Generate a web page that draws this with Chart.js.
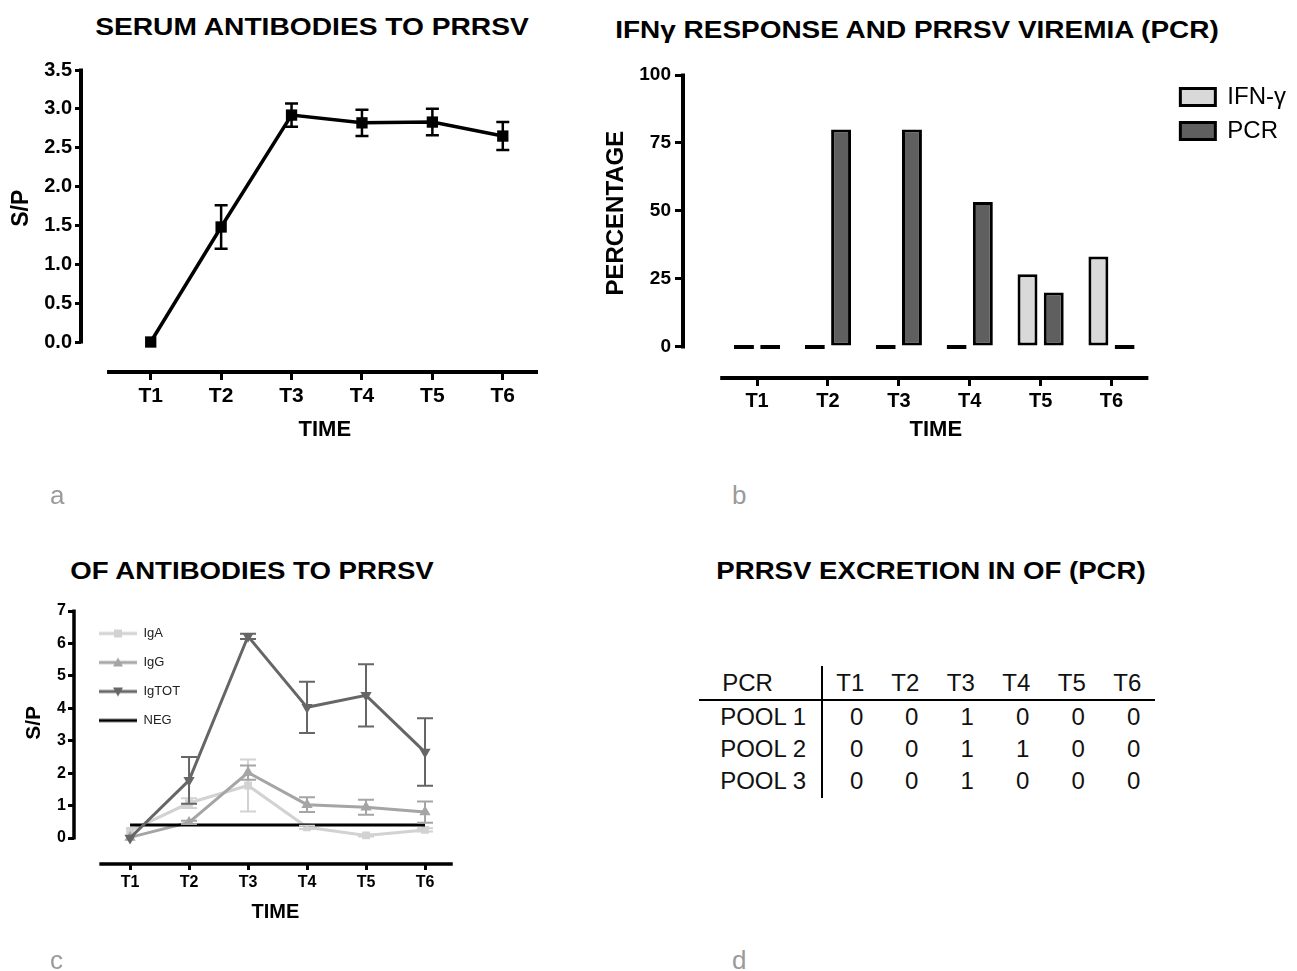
<!DOCTYPE html>
<html>
<head>
<meta charset="utf-8">
<script src="https://cdn.jsdelivr.net/npm/chart.js@4.4.0/dist/chart.umd.min.js"></script>
<style>
  body { margin: 0; width: 1297px; height: 971px; background: #fff; position: relative; overflow: hidden;
         font-family: 'Liberation Sans', Arial, Helvetica, sans-serif; }
  canvas { position: absolute; }
  .ttl { position: absolute; width: 800px; text-align: center; font-weight: bold; font-size: 23px; line-height: 23px;
         color: #000; transform: scaleX(1.2); white-space: nowrap; }
  .tag { position: absolute; font-size: 26px; line-height: 26px; color: #9a9a9a; }
  #pcrTable { position: absolute; left: 699px; top: 666px; width: 456px; border-collapse: collapse; table-layout: fixed;
              font-size: 24px; color: #111; }
  #pcrTable th, #pcrTable td { box-sizing: border-box; padding: 0; font-weight: normal; text-align: center; width: 55.5px; }
  #pcrTable th { height: 34px; border-bottom: 2px solid #000; }
  #pcrTable td { height: 32.5px; padding-left: 13px; }
  #pcrTable th:first-child, #pcrTable td:first-child { width: 123px; border-right: 2px solid #000; }
  #pcrTable th:first-child { padding-right: 25px; }
  #pcrTable td:first-child { text-align: right; padding-right: 15px; padding-left: 0; }
</style>
</head>
<body>
<div class="ttl" style="left:-88px; top:16px; transform:scaleX(1.225)">SERUM ANTIBODIES TO PRRSV</div>
<div class="ttl" style="left:517px; top:19px; transform:scaleX(1.215)">IFNγ RESPONSE AND PRRSV VIREMIA (PCR)</div>
<div class="ttl" style="left:-148px; top:560px">OF ANTIBODIES TO PRRSV</div>
<div class="ttl" style="left:531px; top:560px">PRRSV EXCRETION IN OF (PCR)</div>

<canvas id="chartA" width="600" height="460" style="left:0; top:0"></canvas>
<canvas id="chartB" width="697" height="460" style="left:600px; top:0"></canvas>
<canvas id="chartC" width="600" height="470" style="left:0; top:480px"></canvas>
<table id="pcrTable"></table>

<div class="tag" style="left:50px; top:482px">a</div>
<div class="tag" style="left:732px; top:482px">b</div>
<div class="tag" style="left:50px; top:947px">c</div>
<div class="tag" style="left:732px; top:947px">d</div>

<script>
const timeLabels = ['T1', 'T2', 'T3', 'T4', 'T5', 'T6'];

// a - serum antibodies (S/P, mean and error)
const serumSP = [0.0, 1.48, 2.92, 2.82, 2.83, 2.65];
const serumErr = [0, 0.28, 0.15, 0.17, 0.17, 0.18];

// b - percentage of positive animals
const ifnPercent = [0, 0, 0, 0, 26.7, 33.3];
const pcrPercent = [0, 80, 80, 53.3, 20, 0];

// c - oral fluid antibodies
const igaSP = [0.22, 1.08, 1.62, 0.33, 0.08, 0.25];
const igaErr = [0, 0.15, 0.8, 0.05, 0.03, 0.05];
const iggSP = [0.02, 0.48, 2.02, 1.03, 0.95, 0.8];
const iggErr = [0, 0.05, 0.22, 0.23, 0.23, 0.33];
const igtotSP = [0.0, 1.78, 6.22, 4.03, 4.4, 2.65];
const igtotErr = [0, 0.72, 0.08, 0.79, 0.96, 1.04];
const negCutoff = [0.4, 0.4, 0.4, 0.4, 0.4, 0.4];

// d - PCR in oral fluid pools
const poolNames = ['POOL 1', 'POOL 2', 'POOL 3'];
const poolPCR = [
    [0, 0, 1, 0, 0, 0],
    [0, 0, 1, 1, 0, 0],
    [0, 0, 1, 0, 0, 0]
];

Chart.defaults.font.family = "'Liberation Sans', Arial, Helvetica, sans-serif";
Chart.defaults.color = '#000';
Chart.defaults.animation = false;

const toPoints = vals => vals.map((v, i) => ({ x: i, y: v }));
// leading spaces nudge an axis title off the centre of its scale, as Prism does
const nudge = (text, n) => ' '.repeat(n) + text;

// Draws the detached Prism-style axis lines
const axisLinesPlugin = {
    id: 'axisLines',
    beforeDatasetsDraw(chart, args, opts) {
        const { ctx, chartArea, scales: { x, y } } = chart;
        ctx.save();
        ctx.strokeStyle = '#000';
        ctx.lineWidth = opts.width;
        ctx.beginPath();
        ctx.moveTo(chartArea.left, y.getPixelForValue(opts.yTo) - 1.5);
        ctx.lineTo(chartArea.left, y.getPixelForValue(opts.yFrom) + 1.5);
        ctx.moveTo(x.getPixelForValue(opts.xFrom), chartArea.bottom);
        ctx.lineTo(x.getPixelForValue(opts.xTo), chartArea.bottom);
        ctx.stroke();
        ctx.restore();
    }
};

// Draws error bars from dataset.errors
const errorBarPlugin = {
    id: 'errorBars',
    afterDatasetsDraw(chart) {
        const { ctx, scales: { x, y } } = chart;
        chart.data.datasets.forEach(ds => {
            if (!ds.errors) return;
            ctx.save();
            ctx.strokeStyle = ds.borderColor;
            ctx.lineWidth = ds.errorWidth || 2;
            ds.data.forEach((p, i) => {
                const e = ds.errors[i];
                if (!e) return;
                const px = x.getPixelForValue(p.x);
                const top = y.getPixelForValue(p.y + e);
                const bot = y.getPixelForValue(p.y - e);
                const cap = ds.capHalf || 6;
                ctx.beginPath();
                ctx.moveTo(px, top); ctx.lineTo(px, bot);
                ctx.moveTo(px - cap, top); ctx.lineTo(px + cap, top);
                ctx.moveTo(px - cap, bot); ctx.lineTo(px + cap, bot);
                ctx.stroke();
            });
            ctx.restore();
        });
    }
};

// Keeps a 'chartArea' legend inside the plot area
const legendInAreaPlugin = {
    id: 'legendInArea',
    afterLayout(chart) {
        const l = chart.legend, a = chart.chartArea;
        if (!l) return;
        l.left = a.left; l.right = a.right;
        l.top = a.top; l.bottom = a.bottom;
    }
};

function timeAxis(o) {
    return {
        type: 'linear', min: o.min, max: o.max, offset: false,
        border: { display: false },
        grid: { drawOnChartArea: false, tickLength: o.tick, lineWidth: o.lw, color: '#000', offset: false },
        ticks: {
            stepSize: 1, includeBounds: false, autoSkip: false, maxRotation: 0, padding: o.pad,
            font: { size: o.font, weight: 'bold' }, color: '#000',
            callback: v => timeLabels[v]
        },
        afterBuildTicks: s => { s.ticks = s.ticks.filter(t => Number.isInteger(t.value) && t.value >= 0 && t.value < timeLabels.length); },
        afterFit: s => { s.height = o.height; },
        title: { display: true, text: nudge('TIME', o.shift), font: { size: o.titleSize, weight: 'bold' }, color: '#000', padding: { top: 0, bottom: o.titlePad } }
    };
}

function valueAxis(o) {
    return {
        type: 'linear', min: o.min, max: o.max,
        border: { display: false },
        grid: { drawOnChartArea: false, tickLength: o.tick, lineWidth: o.lw, color: '#000' },
        ticks: {
            stepSize: o.step, includeBounds: false, padding: o.pad,
            font: { size: o.font, weight: 'bold' }, color: '#000', callback: o.fmt
        },
        afterBuildTicks: s => { s.ticks = s.ticks.filter(t => t.value >= -1e-9); },
        afterFit: s => { s.width = o.width; },
        title: { display: true, text: nudge(o.title, o.shift), font: { size: o.titleSize, weight: 'bold' }, color: '#000', padding: { top: o.titlePad, bottom: 0 } }
    };
}

// Panel a
new Chart(document.getElementById('chartA'), {
    type: 'line',
    data: {
        datasets: [{
            label: 'S/P', data: toPoints(serumSP), errors: serumErr,
            borderColor: '#000', backgroundColor: '#000', borderWidth: 3.5,
            pointStyle: 'rect', pointRadius: 8, pointBorderWidth: 0,
            errorWidth: 2.5, capHalf: 6.5
        }]
    },
    options: {
        responsive: false,
        layout: { padding: { top: 70, right: 62, left: 0, bottom: 0 } },
        plugins: {
            legend: { display: false }, tooltip: { enabled: false },
            axisLines: { xFrom: -0.62, xTo: 5.5, yFrom: 0, yTo: 3.5, width: 4 }
        },
        scales: {
            x: timeAxis({ min: -0.99, max: 5.5, height: 88, tick: 8, pad: 4, lw: 3, font: 21, titleSize: 22, titlePad: 17, shift: 5 }),
            y: valueAxis({ min: -0.386, max: 3.5, step: 0.5, width: 81, tick: 6, pad: 3, lw: 3, font: 20,
                           fmt: v => v.toFixed(1), title: 'S/P', titleSize: 23, titlePad: 8, shift: 4 })
        }
    },
    plugins: [axisLinesPlugin, errorBarPlugin]
});

// Panel b
new Chart(document.getElementById('chartB'), {
    type: 'bar',
    data: {
        datasets: [
            { label: 'IFN-γ', data: toPoints(ifnPercent), backgroundColor: '#d9d9d9', borderColor: '#000',
              borderWidth: 3, borderSkipped: false, minBarLength: 4, categoryPercentage: 0.74, barPercentage: 0.76 },
            { label: 'PCR', data: toPoints(pcrPercent), backgroundColor: '#5f5f5f', borderColor: '#000',
              borderWidth: 3, borderSkipped: false, minBarLength: 4, categoryPercentage: 0.74, barPercentage: 0.76 }
        ]
    },
    options: {
        responsive: false,
        layout: { padding: { top: 75, right: 1, left: 0, bottom: 0 } },
        plugins: {
            legend: {
                position: 'right', align: 'start',
                labels: { boxWidth: 35, boxHeight: 17, padding: 10, font: { size: 24 }, color: '#000' }
            },
            tooltip: { enabled: false },
            axisLines: { xFrom: -0.52, xTo: 5.52, yFrom: 0, yTo: 100, width: 4 }
        },
        scales: {
            x: timeAxis({ min: -1.045, max: 5.83, height: 82, tick: 8, pad: 3, lw: 3, font: 20, titleSize: 22, titlePad: 17, shift: 3 }),
            y: valueAxis({ min: -11.4, max: 100, step: 25, width: 83, tick: 8, pad: 4, lw: 3, font: 19,
                           fmt: v => v, title: 'PERCENTAGE', titleSize: 24, titlePad: 2, shift: 4 })
        }
    },
    plugins: [axisLinesPlugin]
});

// Legend symbols for panel c: short line with the series marker
function legendIcon(color, marker) {
    const c = document.createElement('canvas');
    c.width = 47; c.height = 12;
    const g = c.getContext('2d');
    g.strokeStyle = color; g.fillStyle = color; g.lineWidth = 3;
    g.beginPath(); g.moveTo(9, 6); g.lineTo(47, 6); g.stroke();
    g.beginPath();
    if (marker === 'rect') g.rect(24, 2, 8, 8);
    if (marker === 'up') { g.moveTo(28, 1); g.lineTo(33, 10); g.lineTo(23, 10); g.closePath(); }
    if (marker === 'down') { g.moveTo(23, 2); g.lineTo(33, 2); g.lineTo(28, 11); g.closePath(); }
    g.fill();
    return c;
}
const legendIcons = [legendIcon('#d2d2d2', 'rect'), legendIcon('#a5a5a5', 'up'), legendIcon('#666666', 'down'), legendIcon('#000', null)];

// Panel c
new Chart(document.getElementById('chartC'), {
    type: 'line',
    data: {
        datasets: [
            { label: 'IgA', data: toPoints(igaSP), errors: igaErr, borderColor: '#d2d2d2', backgroundColor: '#d2d2d2',
              borderWidth: 3, pointStyle: 'rect', pointRadius: 5.5, pointBorderWidth: 0, capHalf: 8, order: 3 },
            { label: 'IgG', data: toPoints(iggSP), errors: iggErr, borderColor: '#a5a5a5', backgroundColor: '#a5a5a5',
              borderWidth: 3, pointStyle: 'triangle', pointRadius: 6.5, pointBorderWidth: 0, capHalf: 8, order: 2 },
            { label: 'IgTOT', data: toPoints(igtotSP), errors: igtotErr, borderColor: '#666666', backgroundColor: '#666666',
              borderWidth: 3, pointStyle: 'triangle', pointRotation: 180, pointRadius: 6.5, pointBorderWidth: 0, capHalf: 8, order: 0 },
            { label: 'NEG', data: toPoints(negCutoff), borderColor: '#000', backgroundColor: '#000',
              borderWidth: 3, pointRadius: 0, order: 1 }
        ]
    },
    options: {
        responsive: false,
        layout: { padding: { top: 131, right: 145.5, left: 0, bottom: 0 } },
        plugins: {
            legend: {
                position: 'chartArea', align: 'start',
                labels: {
                    usePointStyle: true, pointStyleWidth: 47, padding: 16, font: { size: 13 }, color: '#222',
                    sort: (a, b) => a.datasetIndex - b.datasetIndex,
                    generateLabels: chart => Chart.defaults.plugins.legend.labels.generateLabels(chart)
                        .map(item => ({ ...item, rotation: 0, pointStyle: legendIcons[item.datasetIndex] }))
                }
            },
            tooltip: { enabled: false },
            axisLines: { xFrom: -0.52, xTo: 5.47, yFrom: 0, yTo: 7, width: 3.5 }
        },
        scales: {
            x: timeAxis({ min: -0.95, max: 5.5, height: 86, tick: 6, pad: 3, lw: 3, font: 16, titleSize: 20, titlePad: 26, shift: 4 }),
            y: valueAxis({ min: -0.8, max: 7, step: 1, width: 74, tick: 6, pad: 2, lw: 3, font: 16,
                           fmt: v => v, title: 'S/P', titleSize: 21, titlePad: 22, shift: 5 })
        }
    },
    plugins: [axisLinesPlugin, errorBarPlugin, legendInAreaPlugin]
});

// Panel d - table
const table = document.getElementById('pcrTable');
let rows = '<tr><th>PCR</th>' + timeLabels.map(t => `<th>${t}</th>`).join('') + '</tr>';
poolNames.forEach((name, r) => {
    rows += `<tr><td>${name}</td>` + poolPCR[r].map(v => `<td>${v}</td>`).join('') + '</tr>';
});
table.innerHTML = rows;
</script>
</body>
</html>
